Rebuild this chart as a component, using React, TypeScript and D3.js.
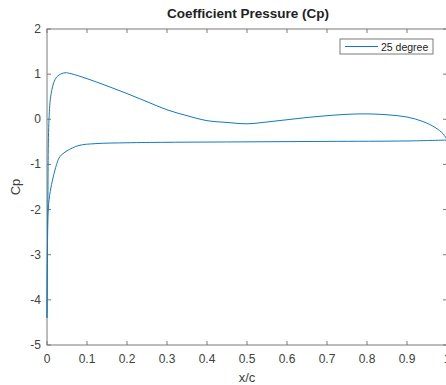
import React, { useRef, useEffect } from "react";
import * as d3 from "d3";

// upper branch (suction side as plotted)
const upperX = [0, 0.002, 0.005, 0.01, 0.02, 0.03, 0.045, 0.06, 0.1, 0.15, 0.2, 0.25, 0.3, 0.35, 0.4, 0.45, 0.5, 0.55, 0.6, 0.65, 0.7, 0.75, 0.8, 0.85, 0.9, 0.94, 0.97, 0.99, 1.0];
const upperCp = [-4.4, -2.0, 0, 0.55, 0.88, 0.98, 1.03, 1.01, 0.9, 0.74, 0.57, 0.39, 0.21, 0.08, -0.03, -0.07, -0.1, -0.06, -0.01, 0.04, 0.08, 0.11, 0.12, 0.1, 0.05, -0.05, -0.18, -0.32, -0.45];

// lower branch
const lowerX = [0, 0.001, 0.003, 0.008, 0.015, 0.024, 0.032, 0.05, 0.08, 0.12, 0.2, 0.3, 0.5, 0.7, 0.9, 1.0];
const lowerCp = [-4.4, -3.0, -2.0, -1.6, -1.3, -1.0, -0.83, -0.7, -0.58, -0.54, -0.52, -0.51, -0.5, -0.49, -0.48, -0.46];

const xTicks = [0, 0.1, 0.2, 0.3, 0.4, 0.5, 0.6, 0.7, 0.8, 0.9, 1];
const yTicks = [-5, -4, -3, -2, -1, 0, 1, 2];
const seriesName = "25 degree";

const W = 446;
const H = 385;
const margin = { top: 29, right: -1, bottom: 40, left: 47 };
const lineColor = "#1479bf";
const axisColor = "#7a7a7a";
const textColor = "#404040";
const font = "'Liberation Sans', Arial, sans-serif";

export default function App() {
  const svgRef = useRef(null);

  useEffect(() => {
    const svg = d3.select(svgRef.current);
    svg.selectAll("*").remove();

    const x = d3.scaleLinear().domain([0, 1]).range([margin.left, W - margin.right]);
    const y = d3.scaleLinear().domain([-5, 2]).range([H - margin.bottom, margin.top]);

    // closed outline: lower from TE to LE, then upper from LE to TE
    const pts = [
      ...lowerX.map((d, i) => [d, lowerCp[i]]).reverse(),
      ...upperX.map((d, i) => [d, upperCp[i]]).slice(1),
    ];

    const line = d3
      .line()
      .x((d) => x(d[0]))
      .y((d) => y(d[1]))
      .curve(d3.curveCatmullRom.alpha(0.5));

    svg.append("rect").attr("width", W).attr("height", H).attr("fill", "#fff");

    const x0 = x(0), x1 = x(1), y0 = y(-5), y1 = y(2);

    // box
    svg
      .append("rect")
      .attr("x", x0)
      .attr("y", y1)
      .attr("width", x1 - x0)
      .attr("height", y0 - y1)
      .attr("fill", "none")
      .attr("stroke", axisColor)
      .attr("stroke-width", 1);

    const ticks = svg.append("g").attr("stroke", axisColor).attr("stroke-width", 1);
    xTicks.forEach((t) => {
      ticks.append("line").attr("x1", x(t)).attr("x2", x(t)).attr("y1", y0).attr("y2", y0 - 4);
      ticks.append("line").attr("x1", x(t)).attr("x2", x(t)).attr("y1", y1).attr("y2", y1 + 4);
    });
    yTicks.forEach((t) => {
      ticks.append("line").attr("x1", x0).attr("x2", x0 + 4).attr("y1", y(t)).attr("y2", y(t));
      ticks.append("line").attr("x1", x1).attr("x2", x1 - 4).attr("y1", y(t)).attr("y2", y(t));
    });

    const labels = svg.append("g").attr("font-family", font).attr("font-size", 12).attr("fill", textColor);
    xTicks.forEach((t) => {
      labels
        .append("text")
        .attr("x", x(t))
        .attr("y", y0 + 18)
        .attr("text-anchor", "middle")
        .text(d3.format("~g")(t));
    });
    yTicks.forEach((t) => {
      labels
        .append("text")
        .attr("x", x0 - 6)
        .attr("y", y(t) + 4)
        .attr("text-anchor", "end")
        .text(t);
    });

    svg
      .append("path")
      .attr("d", line(pts))
      .attr("fill", "none")
      .attr("stroke", lineColor)
      .attr("stroke-width", 1);

    // title and axis labels
    svg
      .append("text")
      .attr("x", 248)
      .attr("y", 18)
      .attr("text-anchor", "middle")
      .attr("font-family", font)
      .attr("font-size", 13.5)
      .attr("font-weight", "bold")
      .attr("fill", "#222")
      .text("Coefficient Pressure (Cp)");

    svg
      .append("text")
      .attr("x", x(0.5))
      .attr("y", y0 + 37)
      .attr("text-anchor", "middle")
      .attr("font-family", font)
      .attr("font-size", 13)
      .attr("fill", textColor)
      .text("x/c");

    svg
      .append("text")
      .attr("transform", `translate(20,${(y0 + y1) / 2}) rotate(-90)`)
      .attr("text-anchor", "middle")
      .attr("font-family", font)
      .attr("font-size", 13)
      .attr("fill", textColor)
      .text("Cp");

    // legend
    const lg = svg.append("g");
    lg.append("rect")
      .attr("x", 340)
      .attr("y", 39)
      .attr("width", 93)
      .attr("height", 15)
      .attr("fill", "#fff")
      .attr("stroke", axisColor)
      .attr("stroke-width", 1);
    lg.append("line")
      .attr("x1", 345)
      .attr("x2", 378)
      .attr("y1", 46.5)
      .attr("y2", 46.5)
      .attr("stroke", lineColor)
      .attr("stroke-width", 1);
    lg.append("text")
      .attr("x", 381)
      .attr("y", 50.5)
      .attr("font-family", font)
      .attr("font-size", 10.5)
      .attr("fill", "#222")
      .text(seriesName);
  }, []);

  return (
    <svg
      ref={svgRef}
      width={W}
      height={H}
      style={{ position: "absolute", left: 0, top: 0 }}
    ></svg>
  );
}
